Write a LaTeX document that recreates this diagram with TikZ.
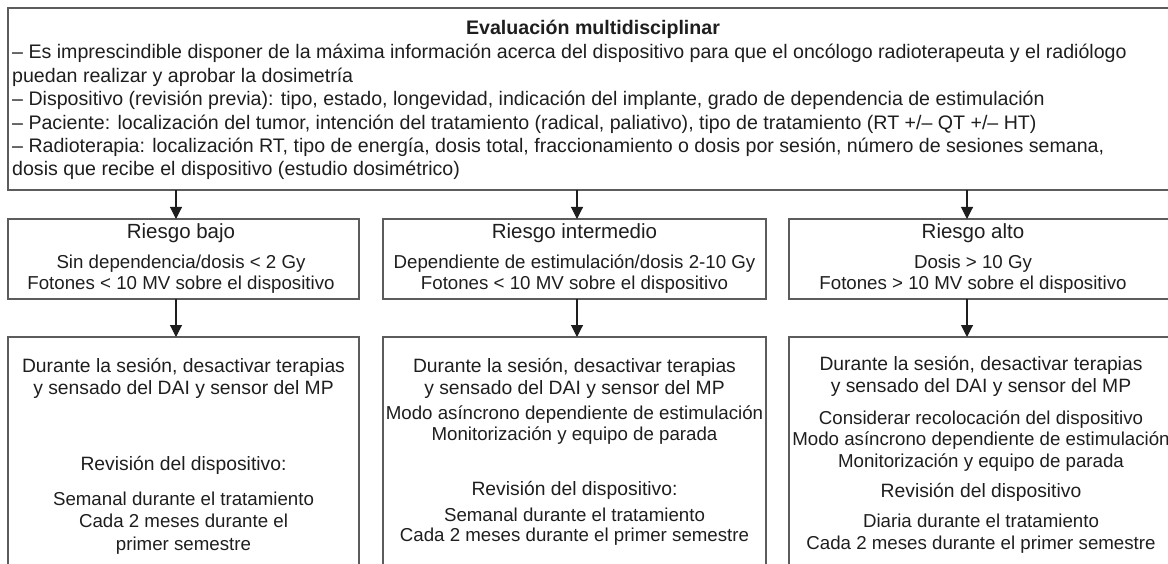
\documentclass[tikz,border=0pt]{standalone}
\usepackage{fontspec}
\setmainfont{Liberation Sans}
\usetikzlibrary{arrows.meta}
\definecolor{ink}{HTML}{1E1E1E}
\definecolor{rule}{HTML}{5C5C5C}

\begin{document}
\begin{tikzpicture}[x=1pt, y=-1pt,
		box/.style={draw=rule, line width=1.3pt, inner sep=0pt, outer sep=0pt},
		lbl/.style={anchor=base, inner sep=0pt, text=ink, font=\fontsize{18.7}{22}\selectfont},
		big/.style={lbl, font=\fontsize{19.3}{22}\selectfont},
		head/.style={lbl, font=\fontsize{20.5}{24}\selectfont},
		line/.style={lbl, anchor=base west, font=\fontsize{19.6}{23}\selectfont},
		arr/.style={-{Triangle[width=12pt, length=12pt]}, line width=1.1pt, draw=ink}]
		\useasboundingbox (0,0) rectangle (1168,564);

		\begin{scope}
			\node[box, minimum width=1170, minimum height=182] (eval) at (593,99) {};

			\node[lbl, font=\fontsize{19.6}{23}\selectfont\bfseries] (eval-t) at (593,35) {Evaluación multidisciplinar};

			\node[line] (eval-1) at (12,59) {– Es imprescindible disponer de la máxima información acerca del dispositivo para que el oncólogo radioterapeuta y el radiólogo};
			\node[line] (eval-2) at (12,82.4) {puedan realizar y aprobar la dosimetría};
			\node[line] (eval-3) at (12,105.8) {– Dispositivo (revisión previa): tipo, estado, longevidad, indicación del implante, grado de dependencia de estimulación};
			\node[line] (eval-4) at (12,129.2) {– Paciente: localización del tumor, intención del tratamiento (radical, paliativo), tipo de tratamiento (RT +/– QT +/– HT)};
			\node[line] (eval-5) at (12,152.6) {– Radioterapia: localización RT, tipo de energía, dosis total, fraccionamiento o dosis por sesión, número de sesiones semana,};
			\node[line] (eval-6) at (12,176) {dosis que recibe el dispositivo (estudio dosimétrico)};
		\end{scope}

		\begin{scope}[xshift=183.5]
			\node[box, minimum width=351, minimum height=80] (bajo) at (0,259) {};

			\node[head] (bajo-t) at (-2.5,239) {Riesgo bajo};
			\node[lbl] (bajo-1) at (-2.5,269) {Sin dependencia/dosis < 2 Gy};
			\node[lbl] (bajo-2) at (-2.5,290) {Fotones < 10 MV sobre el dispositivo};

			\node[box, minimum width=351, minimum height=243] (bajo-plan) at (0,458.5) {};

			\node[big] (bajo-p1) at (0,372) {Durante la sesión, desactivar terapias};
			\node[big] (bajo-p2) at (0,394) {y sensado del DAI y sensor del MP};
			\node[big] (bajo-p3) at (0,470) {Revisión del dispositivo:};
			\node[lbl] (bajo-p4) at (0,505) {Semanal durante el tratamiento};
			\node[lbl] (bajo-p5) at (0,527) {Cada 2 meses durante el};
			\node[lbl] (bajo-p6) at (0,550) {primer semestre};
		\end{scope}

		\begin{scope}[xshift=574.5]
			\node[box, minimum width=383, minimum height=80] (medio) at (0,259) {};

			\node[head] (medio-t) at (0,239) {Riesgo intermedio};
			\node[lbl] (medio-1) at (0,269) {Dependiente de estimulación/dosis 2-10 Gy};
			\node[lbl] (medio-2) at (0,290) {Fotones < 10 MV sobre el dispositivo};

			\node[box, minimum width=383, minimum height=243] (medio-plan) at (0,458.5) {};

			\node[big] (medio-p1) at (0,372) {Durante la sesión, desactivar terapias};
			\node[big] (medio-p2) at (0,394) {y sensado del DAI y sensor del MP};
			\node[lbl] (medio-p3) at (0,419) {Modo asíncrono dependiente de estimulación};
			\node[lbl] (medio-p4) at (0,440) {Monitorización y equipo de parada};
			\node[big] (medio-p5) at (0,495) {Revisión del dispositivo:};
			\node[lbl] (medio-p6) at (0,521) {Semanal durante el tratamiento};
			\node[lbl] (medio-p7) at (0,541) {Cada 2 meses durante el primer semestre};
		\end{scope}

		\begin{scope}[xshift=983.5]
			\node[box, minimum width=389, minimum height=80] (alto) at (0,259) {};

			\node[head] (alto-t) at (-10.5,239) {Riesgo alto};
			\node[lbl] (alto-1) at (-10.5,269) {Dosis > 10 Gy};
			\node[lbl] (alto-2) at (-10.5,290) {Fotones > 10 MV sobre el dispositivo};

			\node[box, minimum width=389, minimum height=243] (alto-plan) at (0,458.5) {};

			\node[big] (alto-p1) at (-2.5,370) {Durante la sesión, desactivar terapias};
			\node[big] (alto-p2) at (-2.5,392) {y sensado del DAI y sensor del MP};
			\node[lbl] (alto-p3) at (-2.5,424) {Considerar recolocación del dispositivo};
			\node[lbl] (alto-p4) at (-2.5,445) {Modo asíncrono dependiente de estimulación};
			\node[lbl] (alto-p5) at (-2.5,467) {Monitorización y equipo de parada};
			\node[big] (alto-p6) at (-2.5,497) {Revisión del dispositivo};
			\node[lbl] (alto-p7) at (-2.5,527) {Diaria durante el tratamiento};
			\node[lbl] (alto-p8) at (-2.5,549) {Cada 2 meses durante el primer semestre};
		\end{scope}

		\coordinate (f1) at (176,0);
		\coordinate (f2) at (577,0);
		\coordinate (f3) at (967,0);

		\draw[arr] (eval.south -| f1) -- (bajo.north -| f1);
		\draw[arr] (eval.south -| f2) -- (medio.north -| f2);
		\draw[arr] (eval.south -| f3) -- (alto.north -| f3);

		\draw[arr] (bajo.south -| f1) -- (bajo-plan.north -| f1);
		\draw[arr] (medio.south -| f2) -- (medio-plan.north -| f2);
		\draw[arr] (alto.south -| f3) -- (alto-plan.north -| f3);
	\end{tikzpicture}
\end{document}
